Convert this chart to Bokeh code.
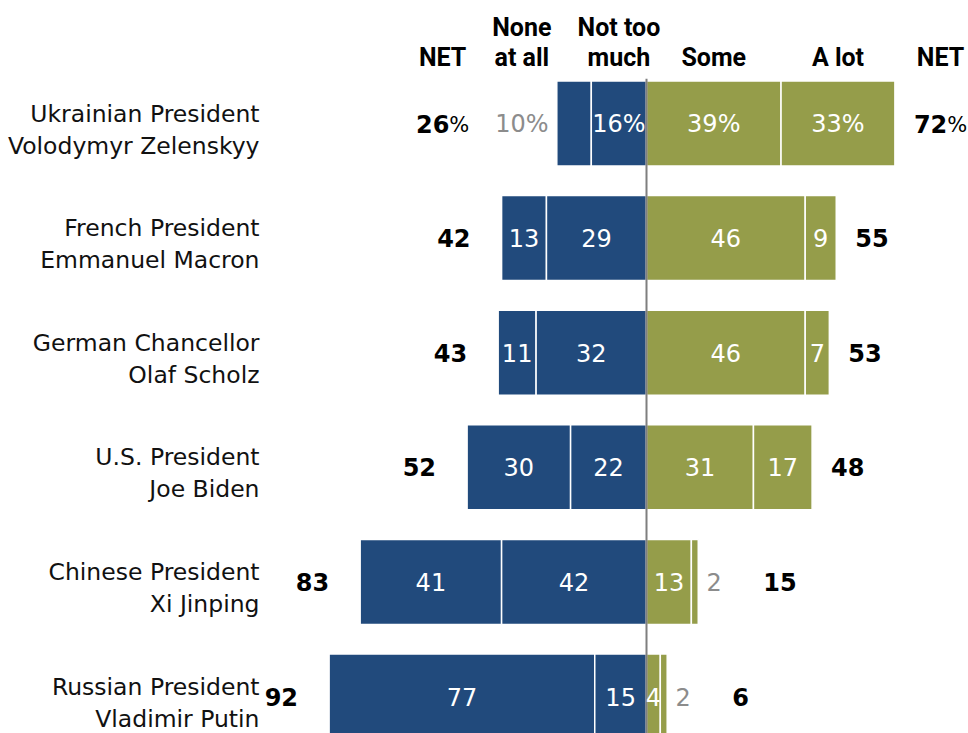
from bokeh.plotting import figure
from bokeh.models import Range1d, ColumnDataSource
from bokeh.embed import file_html
from bokeh.resources import INLINE
from bokeh.core.properties import value

# ---------------- data ----------------
leader_title = ["Ukrainian President", "French President", "German Chancellor",
                "U.S. President", "Chinese President", "Russian President"]
leader_name = ["Volodymyr Zelenskyy", "Emmanuel Macron", "Olaf Scholz",
               "Joe Biden", "Xi Jinping", "Vladimir Putin"]
none_at_all = [10, 13, 11, 30, 41, 77]
not_too_much = [16, 29, 32, 22, 42, 15]
some = [39, 46, 46, 31, 13, 4]
a_lot = [33, 9, 7, 17, 2, 2]
net_low = [26, 42, 43, 52, 83, 92]
net_high = [72, 55, 53, 48, 15, 6]
header_low_net = ["NET"]
header_none = ["None", "at all"]
header_not_much = ["Not too", "much"]
header_some = ["Some"]
header_a_lot = ["A lot"]
header_high_net = ["NET"]

# ---------------- layout / style ----------------
W, H = 968, 733
PX = 3.45          # pixels per percentage point
ZERO_PX = 646      # pixel position of the zero line
ROW_PX = 114.6     # pixels between rows
ROW0_PX = 123      # pixel centre of first row
BAR_H = 0.742      # bar height in row units
BLUE = "#214a7c"
GREEN = "#959d4a"
GRAY = "#8c8c8c"
BODY_FONT = "DejaVu Sans"
HEAD_FONT = "Roboto"
VAL_SIZE = 24
NET_SIZE = 24
PCT_SIZE = 21
CAT_SIZE = 23.5
HEAD_SIZE = 25
GAP_LO = 9         # gap (pp) between bar end and left NET label
GAP_HI = 5.5       # gap (pp) between bar end and right NET label
GAP_OUT_LO = 7.5   # gap (pp) between an outside label and left NET label
GAP_OUT_HI = 12    # gap (pp) between an outside label and right NET label
PAD_OUT = 2.4      # gap (pp) between bar end and an outside label


def text_px(s, size, bold=False):
    w = 0
    for ch in s:
        if ch.isdigit():
            w += (0.696 if bold else 0.636) * size
        elif ch == "%":
            w += 0.95 * size
        else:
            w += 0.6 * size
    return w


def px2u(px):
    return px / PX


n = len(leader_title)
ys = list(range(n))

p = figure(width=W, height=H, output_backend="svg", toolbar_location=None,
           x_range=Range1d(-ZERO_PX / PX, (W - ZERO_PX) / PX),
           y_range=Range1d((H - ROW0_PX) / ROW_PX, -ROW0_PX / ROW_PX),
           x_axis_location=None, y_axis_location=None,
           min_border=0, min_border_left=0, min_border_right=0,
           min_border_top=0, min_border_bottom=0,
           outline_line_color=None, background_fill_color="white")
p.grid.visible = False

# ---------------- bars ----------------
seg_left, seg_right, seg_y, seg_color = [], [], [], []
labels_in = dict(x=[], y=[], t=[])
labels_out_l = dict(x=[], y=[], t=[])
labels_out_r = dict(x=[], y=[], t=[])
head_x = {}
net_lo_x, net_hi_x = [], []

for i in range(n):
    sfx = "%" if i == 0 else ""
    segs = [(-(none_at_all[i] + not_too_much[i]), -not_too_much[i], BLUE, none_at_all[i], "none"),
            (-not_too_much[i], 0, BLUE, not_too_much[i], "ntm"),
            (0, some[i], GREEN, some[i], "some"),
            (some[i], some[i] + a_lot[i], GREEN, a_lot[i], "alot")]
    lo_x = -(none_at_all[i] + not_too_much[i] + GAP_LO)
    hi_x = some[i] + a_lot[i] + GAP_HI
    for (l, r, c, v, key) in segs:
        seg_left.append(l); seg_right.append(r); seg_y.append(i); seg_color.append(c)
        t = f"{v}{sfx}"
        tw = text_px(t, VAL_SIZE)
        outside = (r - l) * PX < 0.75 * tw
        if outside and key == "none":
            xr = l - PAD_OUT
            labels_out_l["x"].append(xr); labels_out_l["y"].append(i); labels_out_l["t"].append(t)
            lo_x = xr - px2u(tw) - GAP_OUT_LO
            cx = xr - px2u(tw) / 2
        elif outside and key == "alot":
            xl = r + PAD_OUT
            labels_out_r["x"].append(xl); labels_out_r["y"].append(i); labels_out_r["t"].append(t)
            hi_x = xl + px2u(tw) + GAP_OUT_HI
            cx = xl + px2u(tw) / 2
        else:
            cx = (l + r) / 2
            labels_in["x"].append(cx); labels_in["y"].append(i); labels_in["t"].append(t)
        if i == 0:
            head_x[key] = cx
    net_lo_x.append(lo_x)
    net_hi_x.append(hi_x)

bars = ColumnDataSource(dict(left=seg_left, right=seg_right,
                             top=[y - BAR_H / 2 for y in seg_y],
                             bottom=[y + BAR_H / 2 for y in seg_y], color=seg_color))
p.quad(left="left", right="right", top="top", bottom="bottom", fill_color="color",
       line_color="white", line_width=1.5, source=bars)

# zero line
p.segment(x0=[0], x1=[0], y0=[-BAR_H / 2 - 0.02], y1=[n + 0.5], line_color="#7f7f7f", line_width=2)

# value labels
p.text(x="x", y="y", text="t", source=ColumnDataSource(labels_in), text_color="white",
       text_font=value(BODY_FONT), text_font_size=f"{VAL_SIZE}px", text_align="center",
       text_baseline="middle")
p.text(x="x", y="y", text="t", source=ColumnDataSource(labels_out_l), text_color=GRAY,
       text_font=value(BODY_FONT), text_font_size=f"{VAL_SIZE}px", text_align="right",
       text_baseline="middle")
p.text(x="x", y="y", text="t", source=ColumnDataSource(labels_out_r), text_color=GRAY,
       text_font=value(BODY_FONT), text_font_size=f"{VAL_SIZE}px", text_align="left",
       text_baseline="middle")

# NET labels (first row: bold number + regular "%")
pct_u = px2u(text_px("%", PCT_SIZE))
nl = dict(x=[], y=[], t=[])
nh = dict(x=[], y=[], t=[])
pl = dict(x=[], y=[], t=[])
ph = dict(x=[], y=[], t=[])
for i in range(n):
    xl, xh = net_lo_x[i], net_hi_x[i]
    nh["x"].append(xh); nh["y"].append(i); nh["t"].append(str(net_high[i]))
    if i == 0:
        pl["x"].append(xl); pl["y"].append(i); pl["t"].append("%")
        nl["x"].append(xl - pct_u); nl["y"].append(i); nl["t"].append(str(net_low[i]))
        nw = px2u(text_px(str(net_high[i]), NET_SIZE, bold=True))
        ph["x"].append(xh + nw); ph["y"].append(i); ph["t"].append("%")
        head_x["netlo"] = xl - (pct_u + px2u(text_px(str(net_low[i]), NET_SIZE, bold=True))) / 2
        head_x["nethi"] = xh + (nw + pct_u) / 2
    else:
        nl["x"].append(xl); nl["y"].append(i); nl["t"].append(str(net_low[i]))

for src, align in [(nl, "right"), (nh, "left")]:
    p.text(x="x", y="y", text="t", source=ColumnDataSource(src), text_color="black",
           text_font=value(BODY_FONT), text_font_size=f"{NET_SIZE}px", text_font_style="bold",
           text_align=align, text_baseline="middle")
for src, align in [(pl, "right"), (ph, "left")]:
    p.text(x="x", y="y", text="t", source=ColumnDataSource(src), text_color="black",
           text_font=value(BODY_FONT), text_font_size=f"{PCT_SIZE}px", text_font_style="normal",
           text_align=align, text_baseline="middle", y_offset=1)

# category labels
cat_x = px2u(259 - ZERO_PX)
p.text(x=[cat_x] * n, y=ys, text=leader_title, y_offset=-10, text_color="#111111",
       text_font=value(BODY_FONT), text_font_size=f"{CAT_SIZE}px", text_align="right",
       text_baseline="middle")
p.text(x=[cat_x] * n, y=ys, text=leader_name, y_offset=22, text_color="#111111",
       text_font=value(BODY_FONT), text_font_size=f"{CAT_SIZE}px", text_align="right",
       text_baseline="middle")

# headers
head_y = (57 - ROW0_PX) / ROW_PX
hx, hy, ht, hoff = [], [], [], []
for key, lines in [("netlo", header_low_net), ("none", header_none), ("ntm", header_not_much),
                   ("some", header_some), ("alot", header_a_lot), ("nethi", header_high_net)]:
    for j, line in enumerate(lines):
        hx.append(head_x[key]); hy.append(head_y); ht.append(line)
        hoff.append(-30 * (len(lines) - 1 - j))
p.text(x="x", y="y", text="t", y_offset="off",
       source=ColumnDataSource(dict(x=hx, y=hy, t=ht, off=hoff)),
       text_color="black", text_font=value(HEAD_FONT), text_font_size=f"{HEAD_SIZE}px",
       text_font_style="bold", text_align="center", text_baseline="middle")

open("out.html", "w").write(file_html(p, INLINE))
